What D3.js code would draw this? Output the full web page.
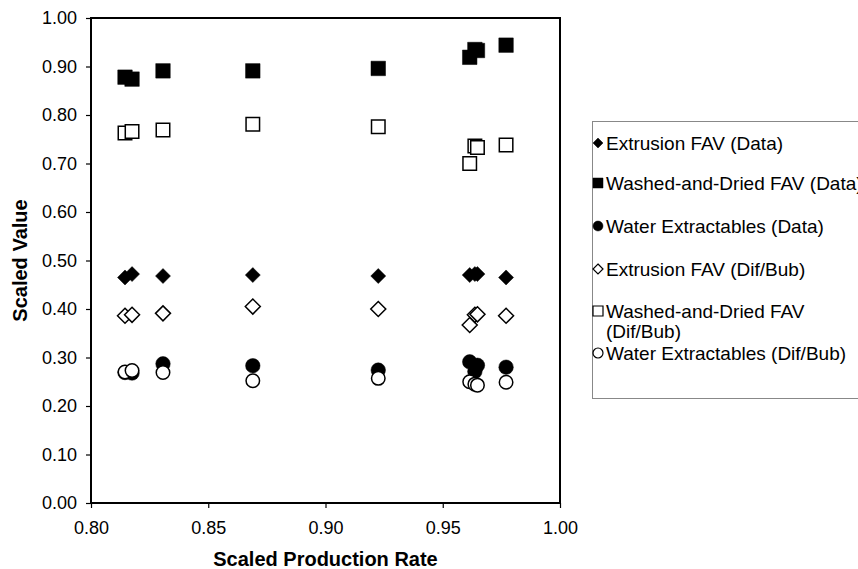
<!DOCTYPE html>
<html>
<head>
<meta charset="utf-8">
<script src="https://cdn.jsdelivr.net/npm/d3@7"></script>
<style>
  body { margin: 0; background: #fff; }
  svg { display: block; font-family: "Liberation Sans", Arial, sans-serif; }
</style>
</head>
<body>
<div id="chart"></div>
<script>
// production rate (x) for every run, shared by all series
const xRate = [0.8145, 0.8175, 0.8307, 0.869, 0.9225, 0.9615, 0.9637, 0.9648, 0.977];

const extrusionData = [0.465, 0.472, 0.468, 0.470, 0.468, 0.470, 0.472, 0.472, 0.465];
const washedData    = [0.878, 0.874, 0.891, 0.891, 0.896, 0.919, 0.935, 0.933, 0.944];
const waterData     = [0.269, 0.268, 0.287, 0.283, 0.274, 0.291, 0.271, 0.284, 0.280];
const extrusionDif  = [0.386, 0.388, 0.391, 0.405, 0.400, 0.367, 0.388, 0.389, 0.386];
const washedDif     = [0.763, 0.766, 0.769, 0.781, 0.776, 0.700, 0.736, 0.733, 0.738];
const waterDif      = [0.270, 0.273, 0.269, 0.252, 0.257, 0.250, 0.245, 0.243, 0.249];

const xTicks = [0.80, 0.85, 0.90, 0.95, 1.00];
const yTicks = [0, 0.1, 0.2, 0.3, 0.4, 0.5, 0.6, 0.7, 0.8, 0.9, 1.0];

const seriesNames = [
    "Extrusion FAV (Data)",
    "Washed-and-Dried FAV (Data)",
    "Water Extractables (Data)",
    "Extrusion FAV (Dif/Bub)",
    "Washed-and-Dried FAV (Dif/Bub)",
    "Water Extractables (Dif/Bub)"
];

const series = [
    {name: seriesNames[0], values: extrusionData, shape: d3.symbolDiamond2, filled: true},
    {name: seriesNames[1], values: washedData, shape: d3.symbolSquare, filled: true},
    {name: seriesNames[2], values: waterData, shape: d3.symbolCircle, filled: true},
    {name: seriesNames[3], values: extrusionDif, shape: d3.symbolDiamond2, filled: false},
    {name: seriesNames[4], values: washedDif, shape: d3.symbolSquare, filled: false},
    {name: seriesNames[5], values: waterDif, shape: d3.symbolCircle, filled: false}
];

const width = 858, height = 569;
const margin = {top: 18, right: 298, bottom: 66, left: 91};

const svg = d3.select("#chart").append("svg")
    .attr("width", width)
    .attr("height", height);

const x = d3.scaleLinear().domain([0.8, 1.0]).range([margin.left, width - margin.right]);
const y = d3.scaleLinear().domain([0, 1]).range([height - margin.bottom, margin.top]);

// d3.symbol wants an area, so turn the visible width (px) into one
function symbolSize(shape, w) {
    if (shape === d3.symbolCircle) return Math.PI * (w / 2) * (w / 2);
    if (shape === d3.symbolDiamond2) return Math.pow(w / 2 / 0.62625, 2);
    return w * w;
}

// axes
svg.append("g")
    .attr("transform", "translate(0," + y(0) + ")")
    .call(d3.axisBottom(x).tickValues(xTicks).tickFormat(d3.format(".2f")).tickSize(5).tickSizeOuter(0))
    .call(g => g.select(".domain").remove())
    .call(g => g.selectAll("line").attr("stroke", "#000").attr("stroke-width", 1.2))
    .call(g => g.selectAll("text").attr("font-size", 18).attr("fill", "#000").attr("y", 31).attr("dy", 0));

svg.append("g")
    .attr("transform", "translate(" + x(0.8) + ",0)")
    .call(d3.axisLeft(y).tickValues(yTicks).tickFormat(d3.format(".2f")).tickSize(5).tickSizeOuter(0))
    .call(g => g.select(".domain").remove())
    .call(g => g.selectAll("line").attr("stroke", "#000").attr("stroke-width", 1.2))
    .call(g => g.selectAll("text").attr("font-size", 18).attr("fill", "#000").attr("x", -14));

// plot frame
svg.append("rect")
    .attr("x", x(0.8))
    .attr("y", y(1))
    .attr("width", x(1) - x(0.8))
    .attr("height", y(0) - y(1))
    .attr("fill", "none")
    .attr("stroke", "#000")
    .attr("stroke-width", 2);

// points
series.forEach(function (s) {
    const w = s.shape === d3.symbolDiamond2 ? 15 : (s.filled ? 14.5 : 13.5);
    const sym = d3.symbol().type(s.shape).size(symbolSize(s.shape, w));
    svg.append("g").selectAll("path")
        .data(s.values.map((v, i) => ({x: xRate[i], y: v})))
        .join("path")
        .attr("transform", d => "translate(" + x(d.x) + "," + y(d.y) + ")")
        .attr("d", sym)
        .attr("fill", s.filled ? "#000" : "#fff")
        .attr("stroke", "#000")
        .attr("stroke-width", s.filled ? 0.5 : 1.5);
});

// axis titles
svg.append("text")
    .attr("x", (x(0.8) + x(1)) / 2)
    .attr("y", 566)
    .attr("text-anchor", "middle")
    .attr("font-size", 20)
    .attr("font-weight", "bold")
    .text("Scaled Production Rate");

svg.append("text")
    .attr("transform", "translate(27," + ((y(0) + y(1)) / 2) + ") rotate(-90)")
    .attr("text-anchor", "middle")
    .attr("font-size", 20)
    .attr("font-weight", "bold")
    .text("Scaled Value");

// legend (box runs past the right edge, as in the original)
const legend = svg.append("g");
legend.append("rect")
    .attr("x", 592.5)
    .attr("y", 121.5)
    .attr("width", 300)
    .attr("height", 277)
    .attr("fill", "#fff")
    .attr("stroke", "#888")
    .attr("stroke-width", 1);

const legendRows = [143, 183, 226, 269, 311, 353];
series.forEach(function (s, i) {
    const cy = legendRows[i];
    const sym = d3.symbol().type(s.shape).size(symbolSize(s.shape, 10));
    legend.append("path")
        .attr("transform", "translate(598," + cy + ")")
        .attr("d", sym)
        .attr("fill", s.filled ? "#000" : "#fff")
        .attr("stroke", "#000")
        .attr("stroke-width", s.filled ? 0.5 : 1.2);
    const t = legend.append("text")
        .attr("x", 606)
        .attr("y", cy + 6.5)
        .attr("font-size", 19)
        .attr("fill", "#000");
    if (s.name === "Washed-and-Dried FAV (Dif/Bub)") {
        t.append("tspan").attr("x", 606).text("Washed-and-Dried FAV");
        t.append("tspan").attr("x", 606).attr("dy", 20).text("(Dif/Bub)");
    } else {
        t.text(s.name);
    }
});
</script>
</body>
</html>
